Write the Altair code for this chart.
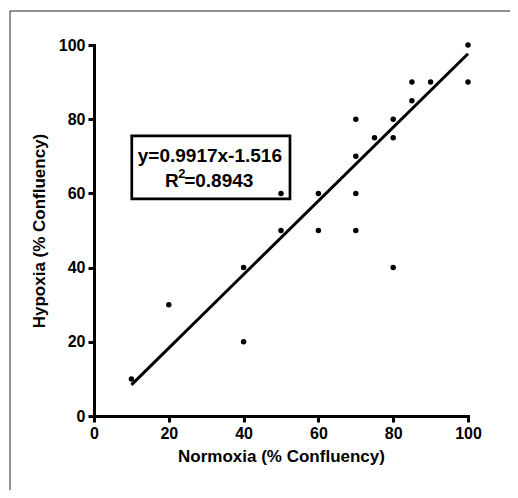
import altair as alt
import pandas as pd

# Scatter data (Normoxia vs Hypoxia, % confluency)
normoxia = [10, 20, 40, 40, 50, 50, 60, 60, 70, 70, 70, 70, 75, 80, 80, 80, 85, 85, 90, 100, 100]
hypoxia = [10, 30, 20, 40, 50, 60, 50, 60, 50, 60, 70, 80, 75, 40, 75, 80, 85, 90, 90, 90, 100]

# Regression line endpoints (y = 0.9917x - 1.516)
fit_x = [10, 100]
fit_y = [8.4, 97.65]

# Equation annotation box (data coordinates) and its text pieces
box_x = [10.1]
box_x2 = [52.4]
box_y = [58.5]
box_y2 = [75.5]
eq_text = ["y=0.9917x-1.516", "R", "=0.8943"]
eq_x = [11.7, 19.0, 24.1]
eq_y = [68.5, 61.8, 61.8]
sup_text = ["2"]
sup_x = [22.5]
sup_y = [64.2]

ticks = [0, 20, 40, 60, 80, 100]

FONT = "Liberation Sans"

pts = pd.DataFrame({"Normoxia": normoxia, "Hypoxia": hypoxia})
fit = pd.DataFrame({"Normoxia": fit_x, "Hypoxia": fit_y})
box = pd.DataFrame({"x": box_x, "x2": box_x2, "y": box_y, "y2": box_y2})
eq = pd.DataFrame({"t": eq_text, "x": eq_x, "y": eq_y})
sup = pd.DataFrame({"t": sup_text, "x": sup_x, "y": sup_y})

xscale = alt.Scale(domain=[0, 100], nice=False, zero=True)
yscale = alt.Scale(domain=[0, 100], nice=False, zero=True)

xaxis = alt.Axis(title="Normoxia (% Confluency)", values=ticks, titlePadding=7)
yaxis = alt.Axis(title="Hypoxia (% Confluency)", values=ticks, titlePadding=10)

frame_left = alt.Chart(box).mark_rule(color="#222222", strokeWidth=1).encode(
    x=alt.value(-84), y=alt.value(-34), y2=alt.value(1000)
)
frame_top = alt.Chart(box).mark_rule(color="#222222", strokeWidth=1).encode(
    x=alt.value(-84), x2=alt.value(1000), y=alt.value(-34)
)

box_layer = alt.Chart(box).mark_rect(fill="white", stroke="black", strokeWidth=2.7).encode(
    x=alt.X("x:Q", scale=xscale, axis=xaxis),
    x2="x2:Q",
    y=alt.Y("y:Q", scale=yscale, axis=yaxis),
    y2="y2:Q",
)

line_layer = alt.Chart(fit).mark_line(color="black", strokeWidth=3).encode(
    x=alt.X("Normoxia:Q", scale=xscale, axis=xaxis),
    y=alt.Y("Hypoxia:Q", scale=yscale, axis=yaxis),
)

pt_layer = alt.Chart(pts).mark_circle(size=30, color="black", opacity=1).encode(
    x=alt.X("Normoxia:Q", scale=xscale, axis=xaxis),
    y=alt.Y("Hypoxia:Q", scale=yscale, axis=yaxis),
)

text_layer = alt.Chart(eq).mark_text(
    font=FONT, fontSize=19, fontWeight="bold", color="black", align="left", baseline="alphabetic"
).encode(
    x=alt.X("x:Q", scale=xscale, axis=xaxis),
    y=alt.Y("y:Q", scale=yscale, axis=yaxis),
    text="t:N",
)

sup_layer = alt.Chart(sup).mark_text(
    font=FONT, fontSize=13, fontWeight="bold", color="black", align="left", baseline="alphabetic"
).encode(
    x=alt.X("x:Q", scale=xscale, axis=xaxis),
    y=alt.Y("y:Q", scale=yscale, axis=yaxis),
    text="t:N",
)

chart = alt.layer(
    frame_left, frame_top, box_layer, line_layer, pt_layer, text_layer, sup_layer
).properties(
    width=374,
    height=371,
    autosize=alt.AutoSizeParams(type="none"),
    padding={"left": 86, "top": 37, "right": 42, "bottom": 74},
    background="transparent",
).configure_view(stroke=None).configure_axis(
    grid=False,
    domainColor="black",
    domainWidth=3,
    domainCap="square",
    tickColor="black",
    tickWidth=3,
    tickSize=6,
    labelFont=FONT,
    labelFontSize=16,
    labelFontWeight="bold",
    labelColor="black",
    labelPadding=3,
    labelFlush=False,
    labelOverlap=False,
    titleFont=FONT,
    titleFontSize=17,
    titleFontWeight="bold",
    titleColor="black",
)

chart.save("out.html", embed_options={"renderer": "svg", "actions": False})
